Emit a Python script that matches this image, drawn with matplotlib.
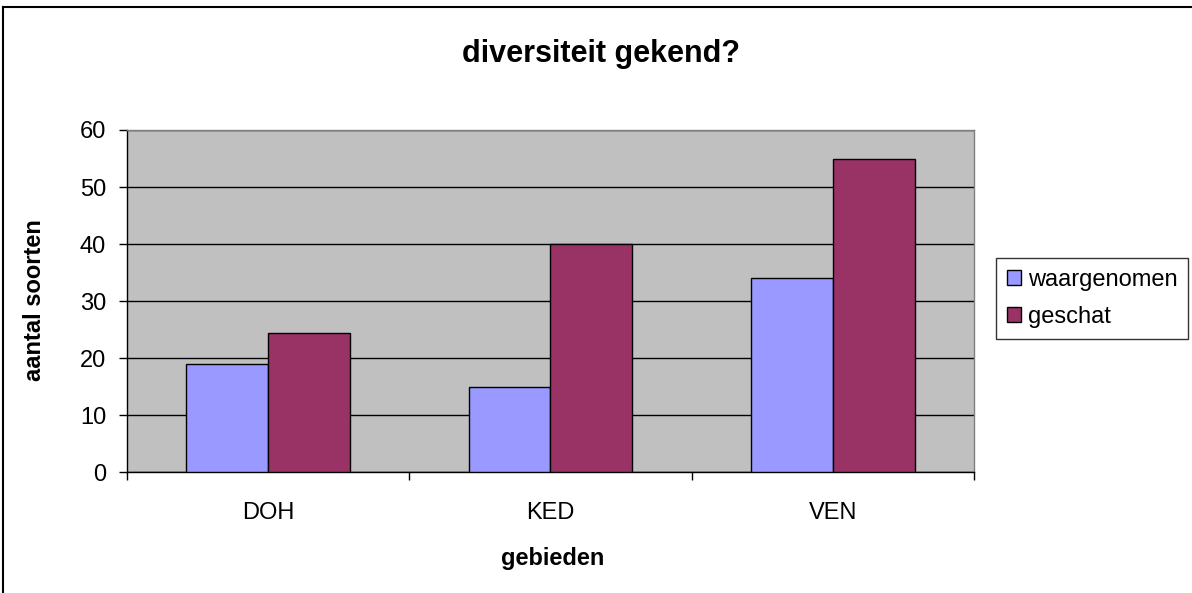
import matplotlib
matplotlib.use("Agg")
import matplotlib.pyplot as plt
from matplotlib.lines import Line2D
import numpy as np

categories = ["DOH", "KED", "VEN"]
waargenomen = [19, 15, 34]
geschat = [24.5, 40, 55]
series_names = ["waargenomen", "geschat"]
yticks = [0, 10, 20, 30, 40, 50, 60]

plt.rcParams['font.family'] = ['Liberation Sans', 'DejaVu Sans']

W, H = 1192, 593
FS = 17
fig = plt.figure(figsize=(W / 100, H / 100), dpi=100)
fig.patch.set_facecolor("white")

ax = fig.add_axes([127 / W, 1 - 472.4 / H, (974 - 127) / W, (472.4 - 130) / H])
ax.set_facecolor("#C0C0C0")

x = np.arange(len(categories))
bw = 0.29
ax.bar(x - bw / 2, waargenomen, width=bw, color="#9999FF", edgecolor="black",
       linewidth=1.0, label=series_names[0], zorder=3)
ax.bar(x + bw / 2, geschat, width=bw, color="#993366", edgecolor="black",
       linewidth=1.0, label=series_names[1], zorder=3)

ax.set_xlim(-0.5, len(categories) - 0.5)
ax.set_ylim(0, 60)
ax.set_yticks(yticks)
ax.set_yticklabels([str(v) for v in yticks], fontsize=FS)
ax.yaxis.grid(True, color="black", linewidth=1.0, zorder=1)
ax.set_axisbelow(True)

ax.set_xticks(x)
ax.set_xticklabels(categories, fontsize=FS)
ax.set_xticks(np.arange(-0.5, len(categories), 1.0), minor=True)
ax.tick_params(axis="x", which="major", length=0, pad=21)
ax.tick_params(axis="x", which="minor", length=6, width=1.0, direction="out", color="black")
ax.tick_params(axis="y", which="major", length=6, width=1.0, direction="out", pad=9)

for s in ["left", "bottom"]:
    ax.spines[s].set_color("black")
    ax.spines[s].set_linewidth(1.0)
for s in ["top", "right"]:
    ax.spines[s].set_color("#808080")
    ax.spines[s].set_linewidth(1.0)

fig.text(601 / W, 1 - 54 / H, "diversiteit gekend?", ha="center", va="center",
         fontsize=22, fontweight="bold")
fig.text(35 / W, 1 - 300 / H, "aantal soorten", ha="center", va="center",
         rotation=90, fontsize=FS, fontweight="bold")
fig.text(553 / W, 1 - 558 / H, "gebieden", ha="center", va="center",
         fontsize=FS, fontweight="bold")

leg = fig.legend(loc="upper left", bbox_to_anchor=(996 / W, 1 - 258 / H),
                 fontsize=FS, frameon=True, fancybox=False, edgecolor="black",
                 handlelength=0.6, handleheight=0.6, handletextpad=0.3,
                 borderpad=0.45, labelspacing=0.65, borderaxespad=0)
leg.get_frame().set_linewidth(1.0)

# outer chart border
fig.add_artist(Line2D([3 / W, 3 / W], [0, 1 - 7 / H], transform=fig.transFigure,
                      color="black", linewidth=1.5))
fig.add_artist(Line2D([3 / W, 1], [1 - 7 / H, 1 - 7 / H], transform=fig.transFigure,
                      color="black", linewidth=1.5))

fig.savefig("out.png", dpi=100)
